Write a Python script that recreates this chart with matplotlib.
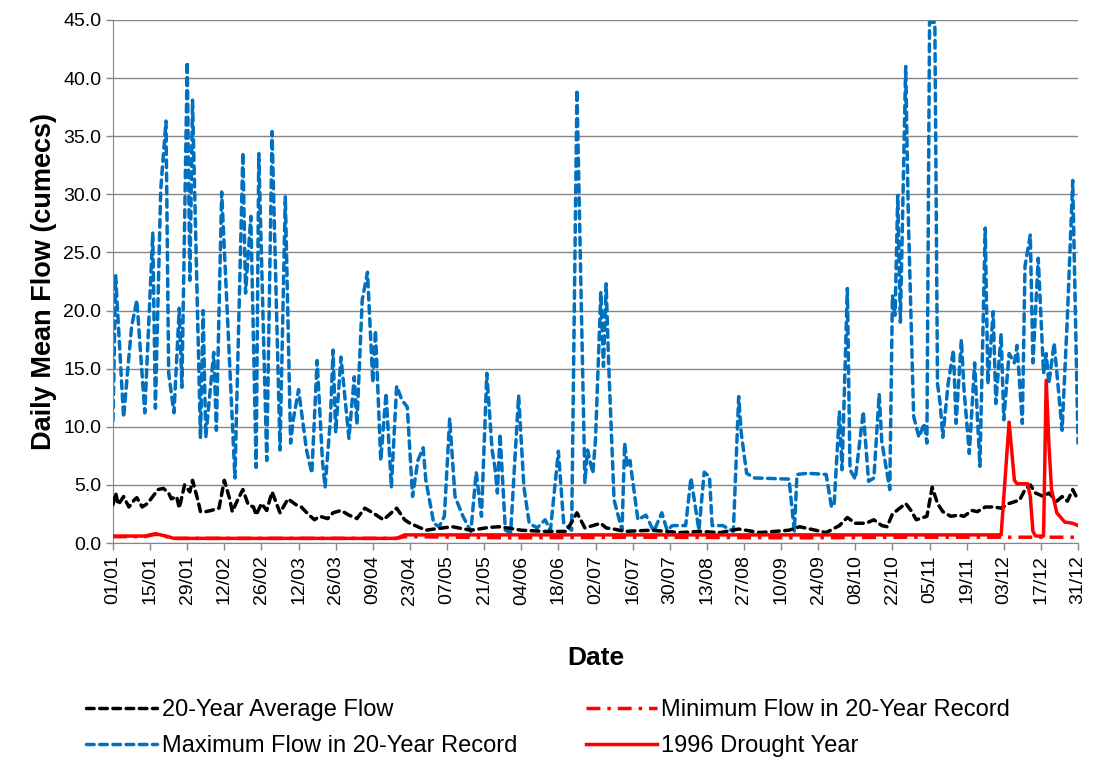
import numpy as np
import matplotlib
matplotlib.use("Agg")
import matplotlib.pyplot as plt
from matplotlib.ticker import FormatStrFormatter

plt.rcParams['font.family'] = ['Liberation Sans', 'DejaVu Sans']

# day of year (0 = 01/01) and flow in cumecs at turning points
max_days = [0, 1, 4, 7, 9, 12, 15, 16, 18, 20, 21, 23, 25, 26, 28, 29, 30, 33, 34, 35,
            38, 39, 41, 46, 49, 50, 52, 54, 55, 58, 60, 63, 65, 67, 68, 70, 73, 75, 77, 79,
            80, 82, 83, 84, 86, 89, 91, 92, 94, 96, 98, 99, 101, 103, 105, 107, 109, 111, 113, 115,
            117, 118, 121, 123, 125, 127, 129, 132, 135, 137, 139, 141, 143, 144, 145, 146, 148, 150, 153, 155,
            157, 160, 163, 165, 168, 170, 173, 175, 178, 179, 181, 182, 184, 185, 186, 187, 189, 192, 193, 194,
            195, 198, 201, 204, 207, 209, 211, 216, 218, 221, 223, 225, 226, 230, 234, 236, 237, 239, 242, 255,
            257, 258, 262, 269, 271, 272, 274, 275, 277, 278, 280, 283, 285, 287, 289, 290, 293, 294, 295, 296,
            297, 299, 300, 302, 304, 306, 307, 308, 310, 311, 312, 313, 315, 317, 318, 320, 321, 323, 325, 327,
            329, 330, 332, 333, 335, 336, 338, 340, 341, 343, 344, 346, 347, 349, 351, 352, 353, 355, 358, 360,
            362, 364]
max_flow = [10.5, 23.0, 10.8, 18.6, 20.9, 11.2, 26.7, 11.6, 30.4, 36.3, 14.6, 11.2, 20.2, 13.4, 41.4, 22.6, 38.1, 9.0, 20.0, 9.1,
            16.4, 9.7, 30.2, 5.6, 33.6, 21.5, 28.1, 6.5, 33.5, 7.1, 35.4, 8.0, 29.8, 8.6, 10.6, 13.2, 8.0, 6.0, 15.7, 7.1,
            4.8, 10.6, 16.6, 9.5, 16.0, 9.0, 14.3, 10.2, 20.9, 23.3, 13.8, 18.3, 7.1, 12.9, 4.8, 13.5, 12.3, 11.7, 4.0, 7.1,
            8.2, 5.4, 1.7, 1.4, 2.3, 10.7, 4.0, 2.3, 1.0, 6.1, 2.3, 14.6, 8.0, 6.6, 4.3, 9.4, 1.1, 0.9, 12.7, 4.8,
            1.7, 1.3, 2.0, 1.1, 7.9, 1.7, 1.1, 39.0, 5.2, 8.0, 6.0, 8.9, 21.6, 15.2, 22.3, 15.2, 3.7, 1.1, 8.6, 6.6,
            7.1, 2.0, 2.4, 1.0, 2.6, 1.1, 1.5, 1.5, 5.6, 1.1, 6.1, 5.7, 1.5, 1.5, 1.0, 12.6, 9.4, 6.0, 5.6, 5.5,
            1.0, 5.9, 6.0, 5.9, 3.1, 3.3, 11.3, 6.3, 21.9, 6.3, 5.5, 11.3, 5.3, 5.6, 12.8, 8.7, 4.6, 21.3, 19.6, 29.9,
            19.0, 41.0, 28.0, 10.9, 9.1, 10.3, 8.6, 44.8, 44.8, 13.7, 12.0, 9.1, 13.7, 16.6, 10.3, 17.5, 13.2, 7.7, 15.5, 6.6,
            27.1, 13.7, 19.9, 12.0, 18.0, 10.6, 16.3, 15.5, 17.0, 10.3, 23.8, 26.5, 15.5, 24.5, 14.6, 16.3, 13.7, 17.2, 9.7, 19.5,
            31.2, 8.6]

avg_days = [0, 1, 2, 4, 6, 8, 9, 11, 13, 15, 17, 19, 21, 22, 24, 25, 27, 29, 30, 32,
            33, 35, 37, 40, 42, 44, 45, 47, 49, 51, 53, 54, 56, 58, 60, 63, 66, 69, 71, 74,
            76, 78, 81, 83, 86, 89, 92, 95, 98, 100, 102, 104, 107, 110, 112, 115, 118, 121, 128, 135,
            142, 146, 154, 163, 171, 175, 178, 184, 186, 189, 193, 203, 214, 221, 229, 236, 244, 255, 259, 269,
            274, 277, 280, 284, 287, 290, 292, 294, 299, 301, 303, 307, 309, 311, 313, 316, 319, 321, 324, 326,
            329, 332, 335, 338, 342, 344, 346, 348, 351, 353, 356, 358, 360, 362, 364]
avg_flow = [3.3, 4.3, 3.3, 4.0, 3.1, 3.7, 3.9, 3.1, 3.4, 4.0, 4.6, 4.7, 4.3, 3.8, 4.0, 3.0, 5.0, 4.4, 5.4, 3.7,
            2.7, 2.7, 2.8, 3.0, 5.4, 3.8, 2.7, 3.7, 4.6, 3.3, 3.1, 2.4, 3.4, 2.8, 4.4, 2.6, 3.8, 3.3, 3.1, 2.4,
            2.0, 2.3, 2.1, 2.6, 2.8, 2.4, 2.1, 3.0, 2.6, 2.3, 2.0, 2.4, 3.0, 2.0, 1.7, 1.4, 1.1, 1.2, 1.4, 1.1,
            1.35, 1.4, 1.1, 1.0, 1.0, 2.6, 1.3, 1.7, 1.3, 1.2, 1.0, 1.1, 0.9, 1.0, 0.9, 1.2, 0.9, 1.1, 1.4, 0.9,
            1.5, 2.2, 1.7, 1.7, 2.0, 1.5, 1.4, 2.5, 3.4, 2.8, 2.0, 2.3, 4.8, 3.4, 2.7, 2.3, 2.4, 2.3, 2.8, 2.7,
            3.1, 3.1, 3.0, 3.4, 3.7, 4.6, 5.0, 4.3, 4.0, 4.3, 3.6, 4.0, 3.6, 4.6, 3.7]

min_days = [0, 12, 16, 20, 23, 107, 110, 150, 200, 260, 300, 335, 364]
min_flow = [0.55, 0.55, 0.75, 0.55, 0.4, 0.4, 0.55, 0.45, 0.5, 0.45, 0.5, 0.5, 0.5]

drought_days = [0, 12, 16, 20, 23, 107, 110, 200, 300, 335, 338, 340, 341, 345, 346, 347, 348, 351, 352, 353,
                354, 356, 359, 362, 364]
drought_flow = [0.6, 0.6, 0.8, 0.6, 0.4, 0.4, 0.7, 0.7, 0.7, 0.7, 10.4, 5.4, 5.1, 5.1, 4.0, 1.0, 0.6, 0.6, 14.0, 8.6,
                4.6, 2.6, 1.8, 1.7, 1.5]

tick_days = list(range(0, 365, 14))
tick_labels = ['01/01', '15/01', '29/01', '12/02', '26/02', '12/03', '26/03', '09/04', '23/04',
               '07/05', '21/05', '04/06', '18/06', '02/07', '16/07', '30/07', '13/08', '27/08',
               '10/09', '24/09', '08/10', '22/10', '05/11', '19/11', '03/12', '17/12', '31/12']

grey = '#868686'
fig = plt.figure(figsize=(10.98, 7.6), dpi=100)
ax = fig.add_axes([0.1029, 0.2855, 0.8789, 0.6882])

l_avg, = ax.plot(avg_days, avg_flow, color='black', lw=2.5, dashes=(2.2, 1.6),
                 dash_capstyle='round', label='20-Year Average Flow', zorder=3)
l_max, = ax.plot(max_days, max_flow, color='#0070C0', lw=2.5, dashes=(2.2, 1.6),
                 dash_capstyle='round', label='Maximum Flow in 20-Year Record', zorder=2)
l_min, = ax.plot(min_days, min_flow, color='red', lw=2.5, dashes=(4, 2, 1, 2),
                 label='Minimum Flow in 20-Year Record', zorder=4)
l_dr, = ax.plot(drought_days, drought_flow, color='red', lw=2.5,
                label='1996 Drought Year', zorder=5)

ax.set_xlim(0, 364)
ax.set_ylim(0, 45)
ax.set_yticks(np.arange(0, 45.1, 5))
ax.yaxis.set_major_formatter(FormatStrFormatter('%.1f'))
ax.set_xticks(tick_days)
ax.set_xticklabels(tick_labels, rotation=90)
ax.tick_params(axis='both', labelsize=14, color=grey, length=5, width=1)
ax.tick_params(axis='x', pad=4)
ax.grid(axis='y', color=grey, lw=1)
ax.set_axisbelow(True)
for s in ['top', 'right']:
    ax.spines[s].set_visible(False)
for s in ['left', 'bottom']:
    ax.spines[s].set_color(grey)

ax.set_ylabel('Daily Mean Flow (cumecs)', fontsize=19.5, fontweight='bold', labelpad=4)
ax.set_xlabel('Date', fontsize=19, fontweight='bold', labelpad=30)

fig.legend(handles=[l_avg, l_max, l_min, l_dr], loc='upper left', bbox_to_anchor=(0.07, 0.093),
           ncol=2, frameon=False, fontsize=17, handlelength=3.0, handletextpad=0.2,
           columnspacing=2.9, labelspacing=0.6, borderaxespad=0)

fig.savefig('out.png', dpi=100)
